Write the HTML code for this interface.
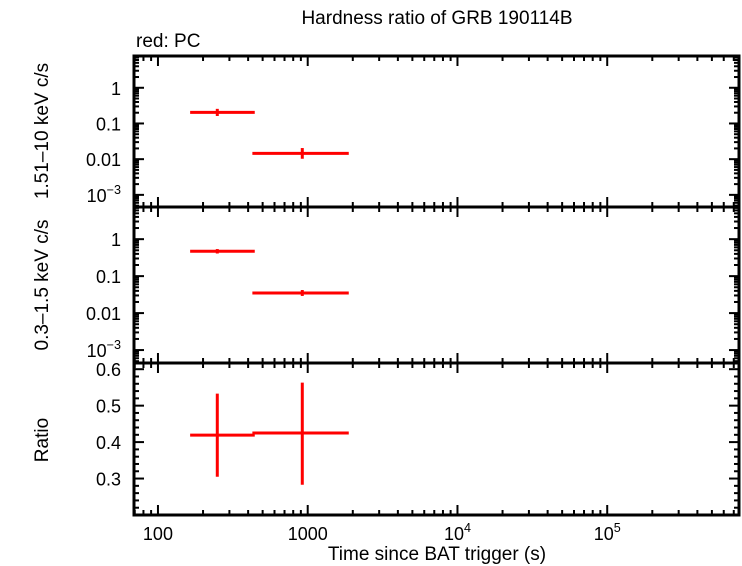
<!DOCTYPE html>
<html><head><meta charset="utf-8"><style>
body{margin:0;background:#fff}
svg{display:block;font-family:"Liberation Sans",sans-serif}
</style></head><body>
<svg id="c" width="742" height="566"></svg>
<script>
const xLo=[164,427], xHi=[443,1880], xMid=[249,920];
const hardVal=[0.204,0.0145], hardErrDex=[0.1,0.15];
const softVal=[0.47,0.035], softErrDex=[0.06,0.08];
const ratioVal=[0.419,0.425], ratioLo=[0.305,0.283], ratioHi=[0.533,0.563];
const xTickLabels=["100","1000","10^4","10^5"];
const logTickLabels=["1","0.1","0.01","10^-3"];
const ratioTickLabels=["0.3","0.4","0.5","0.6"];

const NS="http://www.w3.org/2000/svg", svg=document.getElementById('c');
function el(t,a,p){const e=document.createElementNS(NS,t);for(const k in a)e.setAttribute(k,a[k]);(p||svg).appendChild(e);return e;}
const L=134,R=739;
const xs=v=>L+(Math.log10(v)-1.84)/(5.88-1.84)*(R-L);
const panels=[{t:56,b:207,lo:-3.34,hi:0.89},{t:207,b:363,lo:-3.35,hi:0.87},{t:363,b:515,lo:0.2,hi:0.617}];
const ys=(p,v)=>p.b-(v-p.lo)/(p.hi-p.lo)*(p.b-p.t);
const yl=(p,v)=>ys(p,Math.log10(v));
function txt(s,x,y,anchor,size,name,rot){
  const g=el('text',{x:x,y:y,'text-anchor':anchor,'font-size':size});
  
  
  if(rot)g.setAttribute('transform','rotate(-90 '+x+' '+y+')');
  const m=s.match(/^(.*)\^(.*)$/);
  if(m){g.textContent=m[1];const t=el('tspan',{dy:-8,'font-size':size*0.7},g);t.textContent=m[2].replace('-','−');}
  else g.textContent=s;
  return g;
}
txt("Hardness ratio of GRB 190114B",437,24,"middle",19,"chart-title");
txt("red: PC",136,47,"start",19,"legend-pc");
txt("0.3–1.5 keV c/s",48,285,"middle",19,"y-title-soft",true);
txt("1.51–10 keV c/s",48,131,"middle",19,"y-title-hard",true);
txt("Ratio",48,440,"middle",19,"y-title-ratio",true);
txt("Time since BAT trigger (s)",437,560,"middle",19,"x-axis-title");

panels.forEach((p,i)=>{
  for(let d=1;d<=5;d++)for(let m=1;m<10;m++){const v=m*Math.pow(10,d);const x=xs(v);if(x<L||x>R)continue;
    const len=m==1?10:5;
    el('line',{x1:x,x2:x,y1:p.b,y2:p.b-len,stroke:'#000','stroke-width':2});
    el('line',{x1:x,x2:x,y1:p.t,y2:p.t+len,stroke:'#000','stroke-width':2});}
  if(i<2){for(let d=-4;d<=1;d++)for(let m=1;m<10;m++){const lv=d+Math.log10(m);if(lv<p.lo||lv>p.hi)continue;const y=ys(p,lv);const len=m==1?10:5;
      el('line',{x1:L,x2:L+len,y1:y,y2:y,stroke:'#000','stroke-width':2});
      el('line',{x1:R,x2:R-len,y1:y,y2:y,stroke:'#000','stroke-width':2});}
    logTickLabels.forEach((s,k)=>txt(s,121,ys(p,-k)+7,"end",18,"y-tick-label"));
  } else {for(let k=10;k<=31;k++){const v=k*0.02;if(v>p.hi)continue;const y=ys(p,v);const len=k%5==0?10:5;
      el('line',{x1:L,x2:L+len,y1:y,y2:y,stroke:'#000','stroke-width':2});
      el('line',{x1:R,x2:R-len,y1:y,y2:y,stroke:'#000','stroke-width':2});}
    ratioTickLabels.forEach((s,k)=>txt(s,121,ys(p,0.3+0.1*k)+7,"end",18,"y-tick-label"));}
  const r=el('rect',{x:L,y:p.t,width:R-L,height:p.b-p.t,fill:'none',stroke:'#000','stroke-width':3});
  
  
});
xTickLabels.forEach((s,k)=>txt(s,xs(Math.pow(10,k+2)),540,"middle",18,"x-tick-label"));

function pt(x1,x2,xm,y,ya,yb,name){
  const g=el('g',{stroke:'#f00','stroke-width':3});
  
  
  el('line',{x1:x1,x2:x2,y1:y,y2:y},g);
  el('line',{x1:xm,x2:xm,y1:ya,y2:yb},g);
}
for(let i=0;i<xLo.length;i++){
  const a=xs(xLo[i]),b=xs(xHi[i]),m=xs(xMid[i]);
  let p=panels[0];pt(a,b,m,yl(p,hardVal[i]),ys(p,Math.log10(hardVal[i])+hardErrDex[i]),ys(p,Math.log10(hardVal[i])-hardErrDex[i]),'hard-point');
  p=panels[1];pt(a,b,m,yl(p,softVal[i]),ys(p,Math.log10(softVal[i])+softErrDex[i]),ys(p,Math.log10(softVal[i])-softErrDex[i]),'soft-point');
  p=panels[2];pt(a,b,m,ys(p,ratioVal[i]),ys(p,ratioHi[i]),ys(p,ratioLo[i]),'ratio-point');
}
</script>
</body></html>
